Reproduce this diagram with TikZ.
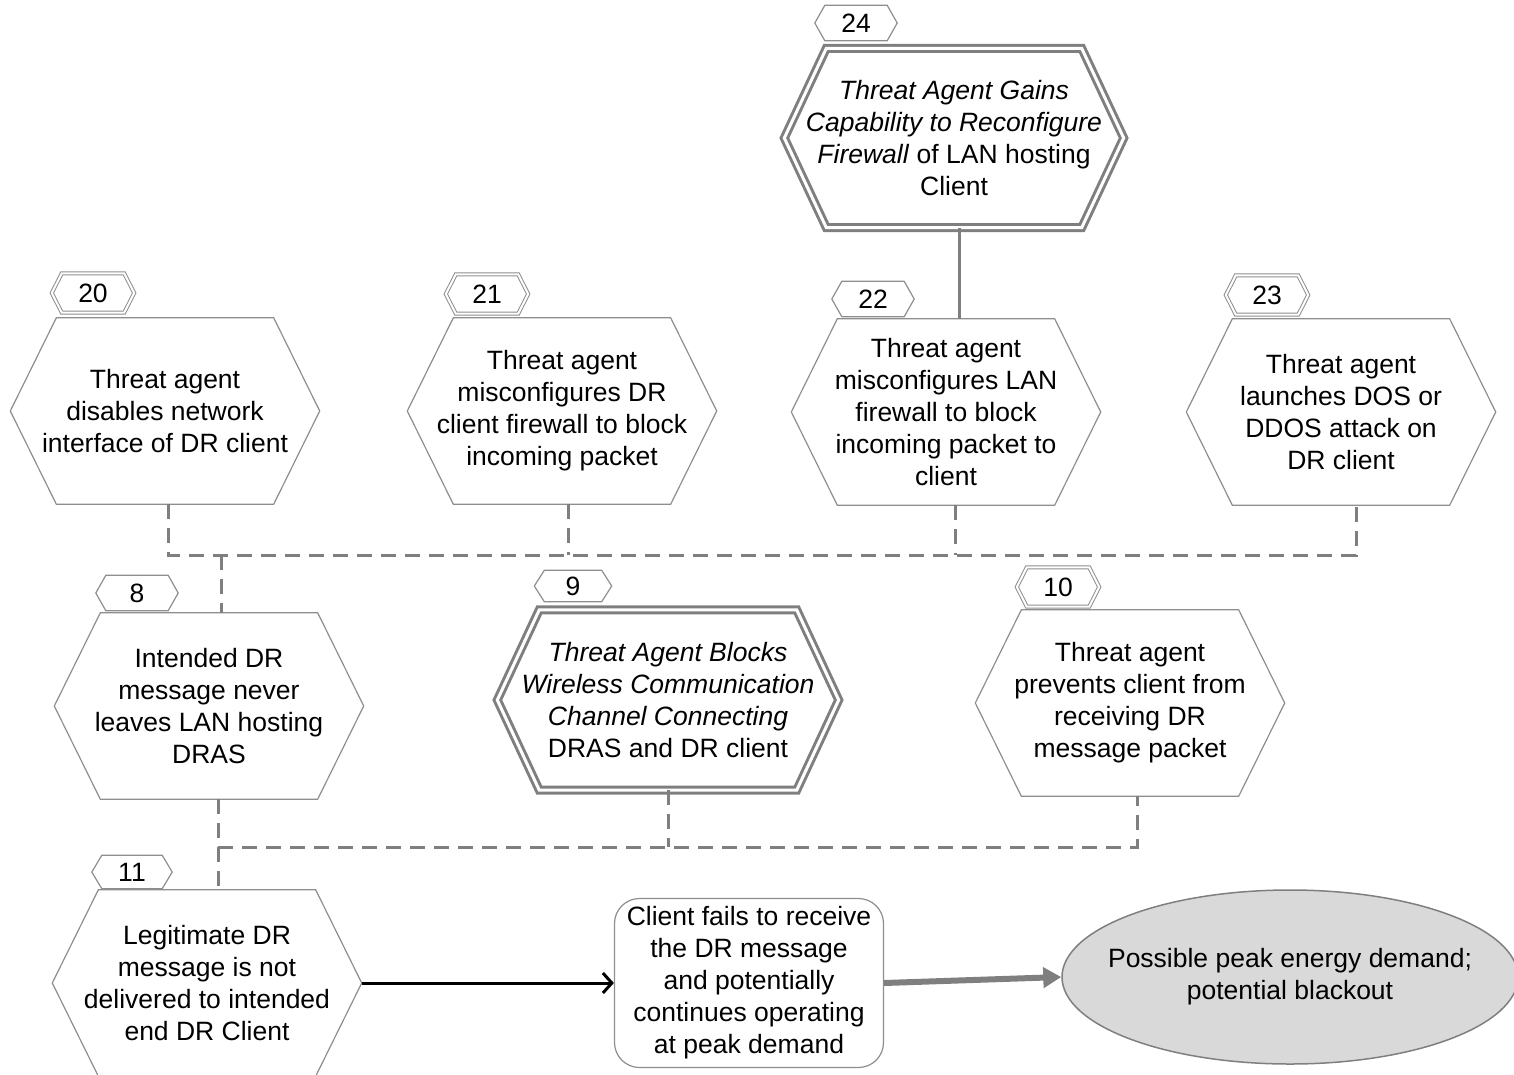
\documentclass[tikz,border=0pt]{standalone}
\usepackage{fontspec}
\setmainfont{Liberation Sans}
\usetikzlibrary{ shapes.geometric, % For the ellipse
                 arrows.meta,      % For the arrow tips
               }
\definecolor{framegray}{HTML}{8E8E8E}
\definecolor{linkgray}{HTML}{7F7F7F}
% hexagon round a node: [style]{node}{corner inset}
\newcommand{\hexframe}[3][]{\draw[#1] (#2.west) -- ([xshift=#3]#2.north west) -- ([xshift=-#3]#2.north east) -- (#2.east) -- ([xshift=-#3]#2.south east) -- ([xshift=#3]#2.south west) -- cycle;}

\begin{document}
\begin{tikzpicture}[x=1pt, y=-1pt,
    font=\fontsize{26.5}{32}\selectfont,
    event/.style={minimum width=309pt, minimum height=186pt, inner sep=0pt, align=center},
    tag/.style={minimum width=82pt, minimum height=35pt, inner sep=0pt},
    thin_hex/.style={draw=framegray, line width=1.2pt},
    double_hex/.style={draw=framegray, line width=1pt, double=white, double distance=2pt},
    bold_hex/.style={draw=linkgray, line width=3pt, double=white, double distance=3pt},
    or_link/.style={draw=linkgray, line width=3pt, dash pattern=on 15pt off 9pt},
  ]
  \useasboundingbox (0,0) rectangle (1514,1074);

  % top level
  \node[event, minimum width=339pt, minimum height=179pt] (twentyfour) at (954,138)
    {\textit{Threat Agent Gains}\\ \textit{Capability to Reconfigure}\\ \textit{Firewall} of LAN hosting\\ Client};
  \node[tag] (twentyfour_tag) at (856,23) {24};

  \node[event] (twenty) at (165,411) {Threat agent\\ disables network\\ interface of DR client};
  \node[tag, minimum height=39pt] (twenty_tag) at (93,293) {20};
  \node[event] (twentyone) at (562,411) {Threat agent\\ misconfigures DR\\ client firewall to block\\ incoming packet};
  \node[tag, minimum height=39pt] (twentyone_tag) at (487,294) {21};
  \node[event] (twentytwo) at (946,412) {Threat agent\\ misconfigures LAN\\ firewall to block\\ incoming packet to\\ client};
  \node[tag] (twentytwo_tag) at (873,299) {22};
  \node[event] (twentythree) at (1341,412) {Threat agent\\ launches DOS or\\ DDOS attack on\\ DR client};
  \node[tag, minimum height=39pt] (twentythree_tag) at (1267,295) {23};

  % middle level
  \node[event] (eight) at (209,706) {Intended DR\\ message never\\ leaves LAN hosting\\ DRAS};
  \node[tag] (eight_tag) at (137,593) {8};
  \node[event, minimum width=341pt, minimum height=180pt] (nine) at (668,700)
    {\textit{Threat Agent Blocks}\\ \textit{Wireless Communication}\\ \textit{Channel Connecting}\\ DRAS and DR client};
  \node[tag, minimum width=77pt, minimum height=31pt] (nine_tag) at (573,586) {9};
  \node[event] (ten) at (1130,703) {Threat agent\\ prevents client from\\ receiving DR\\ message packet};
  \node[tag, minimum height=39pt] (ten_tag) at (1058,587) {10};

  % bottom row
  \node[event] (eleven) at (207,983) {Legitimate DR\\ message is not\\ delivered to intended\\ end DR Client};
  \node[tag, minimum width=80pt, minimum height=33pt] (eleven_tag) at (132,872) {11};
  \node[draw=framegray, line width=1.2pt, rounded corners=25pt, minimum width=269pt, minimum height=169pt,
        inner sep=0pt, align=center] (outcome) at (749,983)
    {Client fails to receive\\ the DR message\\ and potentially\\ continues operating\\ at peak demand};
  \node[ellipse, draw=linkgray, line width=1.5pt, fill=gray!30, minimum width=456pt, minimum height=174pt,
        inner xsep=-24pt, inner ysep=0pt, align=center] (blackout) at (1290,977)
    {Possible peak energy demand;\\ potential blackout};

  % frames
  \hexframe[bold_hex]{twentyfour}{42pt}
  \hexframe[bold_hex]{nine}{42pt}
  \hexframe[thin_hex]{twenty}{46pt}
  \hexframe[thin_hex]{twentyone}{46pt}
  \hexframe[thin_hex]{twentytwo}{46pt}
  \hexframe[thin_hex]{twentythree}{46pt}
  \hexframe[thin_hex]{eight}{46pt}
  \hexframe[thin_hex]{ten}{46pt}
  \hexframe[thin_hex]{eleven}{46pt}
  \hexframe[thin_hex]{twentyfour_tag}{10pt}
  \hexframe[thin_hex]{twentytwo_tag}{10pt}
  \hexframe[thin_hex]{eight_tag}{10pt}
  \hexframe[thin_hex]{nine_tag}{10pt}
  \hexframe[thin_hex]{eleven_tag}{10pt}
  \hexframe[double_hex]{twenty_tag}{10pt}
  \hexframe[double_hex]{twentyone_tag}{10pt}
  \hexframe[double_hex]{twentythree_tag}{10pt}
  \hexframe[double_hex]{ten_tag}{10pt}

  % links
  \coordinate (or_upper) at (221,555);
  \coordinate (or_lower) at (218,847);

  \draw[linkgray, line width=3pt] ([xshift=5pt]twentyfour.south) -- ([xshift=5pt]twentyfour.south |- twentytwo.north);

  \draw[or_link] ([xshift=3pt]twenty.south) -- ([xshift=3pt]twenty.south |- or_upper)
    -- ([xshift=15pt]twentythree.south |- or_upper) -- ([xshift=15pt]twentythree.south);
  \draw[or_link] ([xshift=6pt]twentyone.south) -- ([xshift=6pt]twentyone.south |- or_upper);
  \draw[or_link] ([xshift=9pt]twentytwo.south) -- ([xshift=9pt]twentytwo.south |- or_upper);
  \draw[or_link] (or_upper) -- (or_upper |- eight.north);

  \draw[or_link] (or_lower |- eight.south) -- (or_lower |- eleven.north);
  \draw[or_link] (or_lower) -- ([xshift=7pt]ten.south |- or_lower) -- ([xshift=7pt]ten.south);
  \draw[or_link] (nine.south) -- (nine.south |- or_lower);

  \draw[line width=3pt, -{Straight Barb[length=9pt, width=20pt]}] (eleven.east) -- (outcome.west);
  \draw[linkgray, line width=6pt, -{Triangle[length=18pt, width=20pt]}] (outcome.east) -- (blackout.west);
\end{tikzpicture}
\end{document}
